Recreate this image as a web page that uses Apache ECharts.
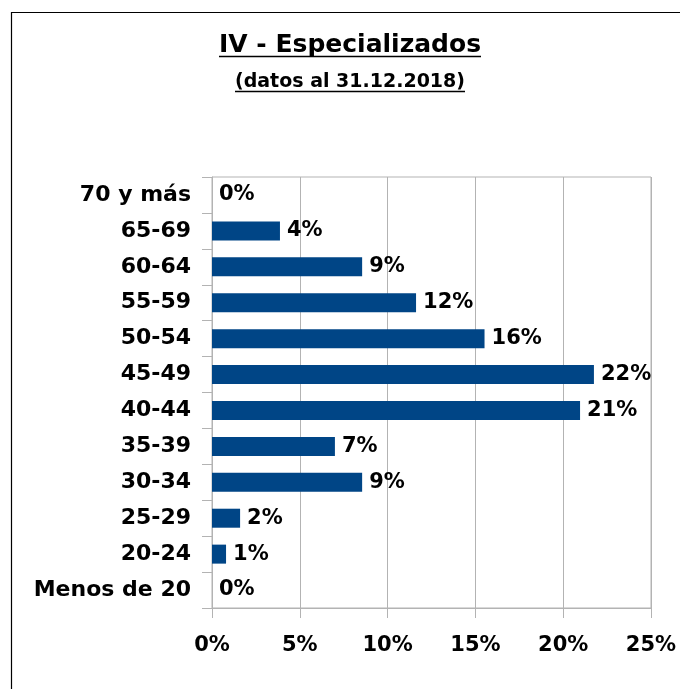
<!DOCTYPE html>
<html lang="es">
<head>
    <meta charset="UTF-8">
    <title>IV - Especializados</title>
    <script src="https://cdn.jsdelivr.net/npm/echarts@6/dist/echarts.min.js"></script>
    <style>
        html, body { margin: 0; padding: 0; background: #fff; }
    </style>
</head>
<body>
<div id="main" style="width: 680px;height:689px;"></div>
<script>
    // datos (de arriba hacia abajo)
    const categorias = ['70 y más', '65-69', '60-64', '55-59', '50-54', '45-49',
        '40-44', '35-39', '30-34', '25-29', '20-24', 'Menos de 20'];
    const porcentajes = [0, 3.87, 8.55, 11.62, 15.52, 21.75, 20.96, 7.0, 8.55, 1.6, 0.8, 0];
    const ticksX = [0, 5, 10, 15, 20, 25];

    const titulo = 'IV - Especializados';
    const subtitulo = '(datos al 31.12.2018)';
    const fuente = 'DejaVu Sans';

    // ancho del texto para el subrayado
    function anchoTexto(txt, size) {
        let ctx = document.createElement('canvas').getContext('2d');
        ctx.font = 'bold ' + size + 'px "' + fuente + '"';
        return ctx.measureText(txt).width;
    }

    const cx = 350;
    const w1 = anchoTexto(titulo, 25);
    const w2 = anchoTexto(subtitulo, 19);

    let myChart = echarts.init(document.getElementById('main'));
    let option = {
        animation: false,
        textStyle: { fontFamily: fuente },
        graphic: [
            // marco
            { type: 'rect', shape: { x: 11.5, y: 12.5, width: 700, height: 700 },
              style: { fill: 'none', stroke: '#000', lineWidth: 1.2 }, silent: true },
            { type: 'text', x: cx, y: 45,
              style: { text: titulo, fontFamily: fuente, fontWeight: 'bold', fontSize: 25,
                       fill: '#000', align: 'center', verticalAlign: 'middle' } },
            { type: 'line', shape: { x1: cx - w1 / 2, y1: 56.5, x2: cx + w1 / 2, y2: 56.5 },
              style: { stroke: '#000', lineWidth: 1.6 } },
            { type: 'text', x: cx, y: 82,
              style: { text: subtitulo, fontFamily: fuente, fontWeight: 'bold', fontSize: 19,
                       fill: '#000', align: 'center', verticalAlign: 'middle' } },
            { type: 'line', shape: { x1: cx - w2 / 2, y1: 91.5, x2: cx + w2 / 2, y2: 91.5 },
              style: { stroke: '#000', lineWidth: 1.3 } }
        ],
        grid: {
            left: 212, top: 177, right: 29, bottom: 81,
            show: true, borderColor: '#b3b3b3', borderWidth: 1,
            outerBoundsMode: 'none'
        },
        xAxis: {
            type: 'value',
            min: ticksX[0], max: ticksX[ticksX.length - 1], interval: 5,
            axisLine: { show: true, lineStyle: { color: '#b3b3b3' } },
            axisTick: { show: true, length: 10, lineStyle: { color: '#b3b3b3' } },
            splitLine: { show: true, lineStyle: { color: '#b3b3b3' } },
            axisLabel: {
                margin: 27, fontSize: 21, fontWeight: 'bold', color: '#000',
                fontFamily: fuente,
                formatter: '{value}%'
            }
        },
        yAxis: {
            type: 'category',
            inverse: true,
            data: categorias,
            axisLine: { show: true, lineStyle: { color: '#b3b3b3' } },
            axisTick: { show: true, length: 10, lineStyle: { color: '#b3b3b3' } },
            splitLine: { show: false },
            axisLabel: {
                margin: 21, fontSize: 22, fontWeight: 'bold', color: '#000',
                fontFamily: fuente
            }
        },
        series: [{
            type: 'bar',
            data: porcentajes,
            barWidth: 19,
            itemStyle: { color: '#004586' },
            label: {
                show: true, position: 'right', distance: 7,
                fontSize: 21, fontWeight: 'bold', color: '#000', fontFamily: fuente,
                formatter: function (p) { return Math.round(p.value) + '%'; }
            }
        }]
    };
    myChart.setOption(option);
</script>
</body>
</html>
